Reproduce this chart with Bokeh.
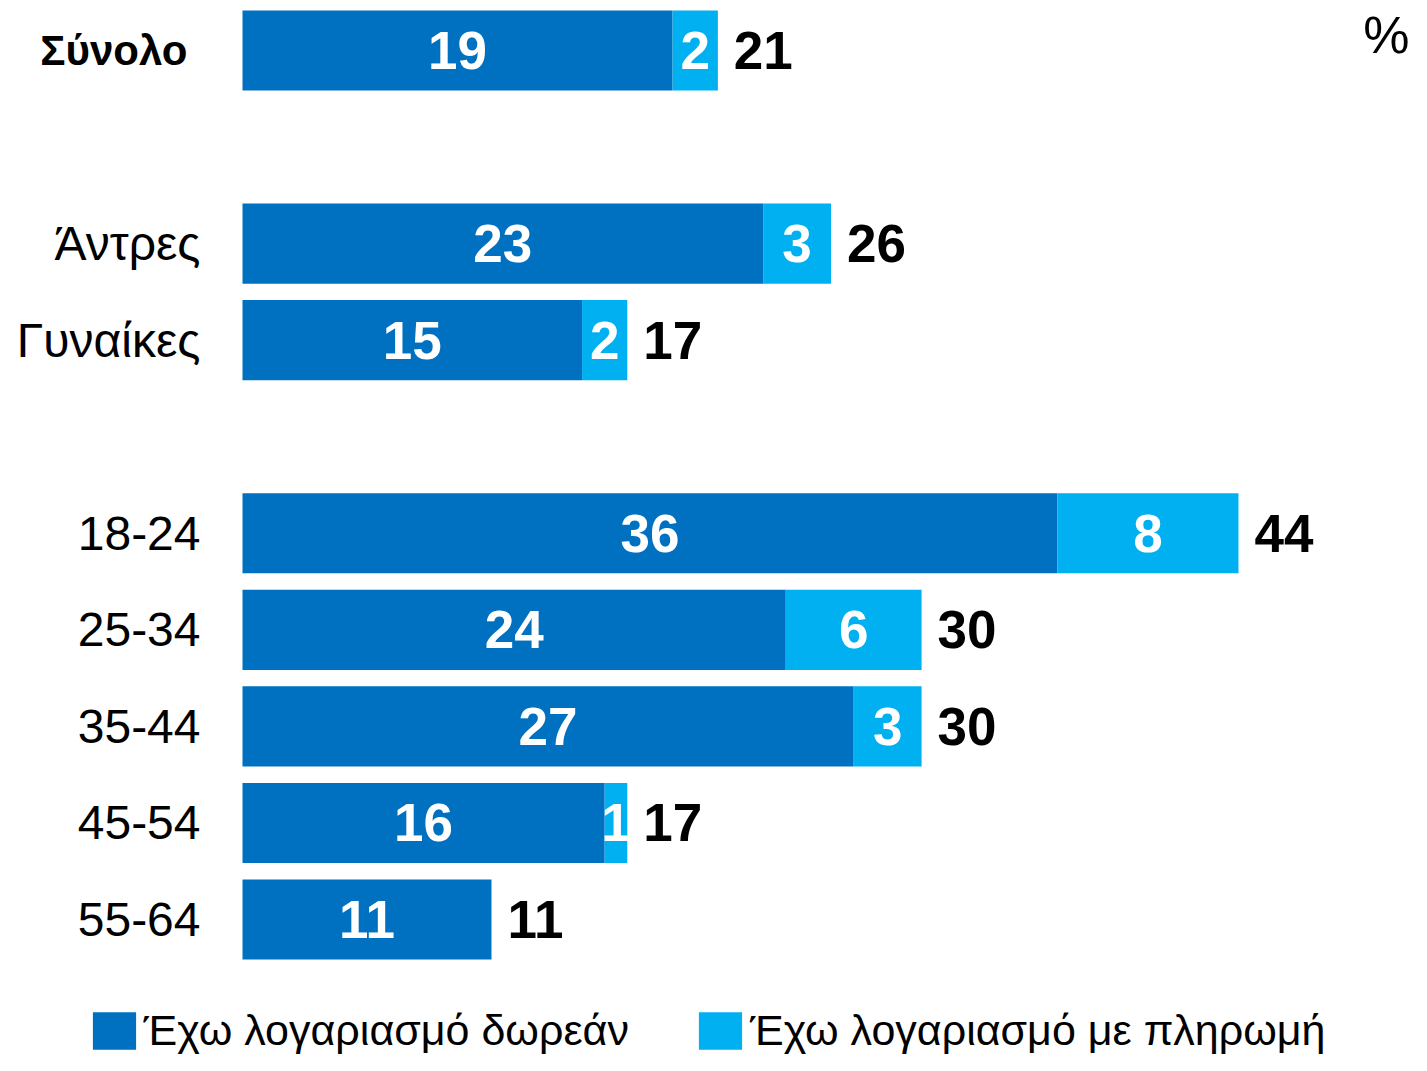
from bokeh.plotting import figure
from bokeh.models import ColumnDataSource, Range1d, Legend, LegendItem, Label
from bokeh.core.properties import value
from bokeh.embed import file_html
from bokeh.resources import INLINE

# ---- data ----
groups = [["Σύνολο"], ["Άντρες", "Γυναίκες"], ["18-24", "25-34", "35-44", "45-54", "55-64"]]
free = [19, 23, 15, 36, 24, 27, 16, 11]
paid = [2, 3, 2, 8, 6, 3, 1, 0]
total = [21, 26, 17, 44, 30, 30, 17, 11]
series_names = ["Έχω λογαριασμό δωρεάν", "Έχω λογαριασμό με πληρωμή"]
unit_label = "%"

# ---- layout ----
categories, rows = [], []
r = 0
for g in groups:
    for c in g:
        categories.append(c)
        rows.append(r)
        r += 1
    r += 1

W, H = 1411, 1055
PXU = 22.636
X0 = 242
PITCH = 96.56
Y0 = 50
x_start = -X0 / PXU
x_end = x_start + W / PXU
y_top = -Y0 / PITCH

DARK = "#0070C0"
LIGHT = "#00B0F0"
REG = "Liberation Sans"

src = ColumnDataSource(dict(
    cat=categories, row=rows, free=free, paid=paid, total=total,
    paid_end=[f + q for f, q in zip(free, paid)],
    free_mid=[f / 2 for f in free],
    paid_mid=[f + q / 2 for f, q in zip(free, paid)],
    free_txt=[str(v) for v in free],
    paid_txt=[str(v) if v > 0 else "" for v in paid],
    total_txt=[str(v) for v in total],
    zero=[0] * len(free),
))

p = figure(width=W, height=H, output_backend="svg", toolbar_location=None,
           x_range=Range1d(x_start, x_end),
           y_range=Range1d(y_top + H / PITCH, y_top),
           min_border=0, outline_line_color=None)
p.axis.visible = False
p.grid.visible = False
p.background_fill_color = "white"
p.border_fill_color = "white"

r1 = p.hbar(y="row", left="zero", right="free", height=0.83, source=src,
            fill_color=DARK, line_color=None)
r2 = p.hbar(y="row", left="free", right="paid_end", height=0.83, source=src,
            fill_color=LIGHT, line_color=None)

VSIZE = "53px"
p.text(x="free_mid", y="row", text="free_txt", source=src, text_color="white",
       text_font=value(REG), text_font_style="bold", text_font_size=VSIZE,
       text_align="center", text_baseline="middle")
p.text(x="paid_mid", y="row", text="paid_txt", source=src, text_color="white",
       text_font=value(REG), text_font_style="bold", text_font_size=VSIZE,
       text_align="center", text_baseline="middle")
p.text(x="paid_end", y="row", text="total_txt", source=src, text_color="black",
       text_font=value(REG), text_font_style="bold", text_font_size=VSIZE,
       text_align="left", text_baseline="middle", x_offset=16)

# category labels
first = ColumnDataSource(dict(cat=categories[:1], row=rows[:1], zero=[0]))
rest = ColumnDataSource(dict(cat=categories[1:], row=rows[1:], zero=[0] * (len(rows) - 1)))
p.text(x="zero", y="row", text="cat", source=first, text_color="black",
       text_font=value(REG), text_font_style="bold", text_font_size="42px",
       text_align="right", text_baseline="middle", x_offset=-55)
p.text(x="zero", y="row", text="cat", source=rest, text_color="black",
       text_font=value(REG), text_font_size="48px",
       text_align="right", text_baseline="middle", x_offset=-42)

p.add_layout(Label(x=x_end - 2 / PXU, y=-16 / PITCH, text=unit_label,
                   text_font=REG, text_font_size="52px", text_align="right",
                   text_baseline="middle", text_color="black"))

legend = Legend(items=[LegendItem(label=series_names[0], renderers=[r1]),
                       LegendItem(label=series_names[1], renderers=[r2])],
                orientation="horizontal", location=(86.6, 0),
                glyph_width=54, glyph_height=47, label_standoff=3, spacing=64,
                padding=0, margin=0, border_line_color=None,
                background_fill_alpha=0,
                label_text_font=REG, label_text_font_size="43px",
                label_text_color="black", label_height=47)
p.add_layout(legend)

open("out.html", "w").write(file_html(p, INLINE))
